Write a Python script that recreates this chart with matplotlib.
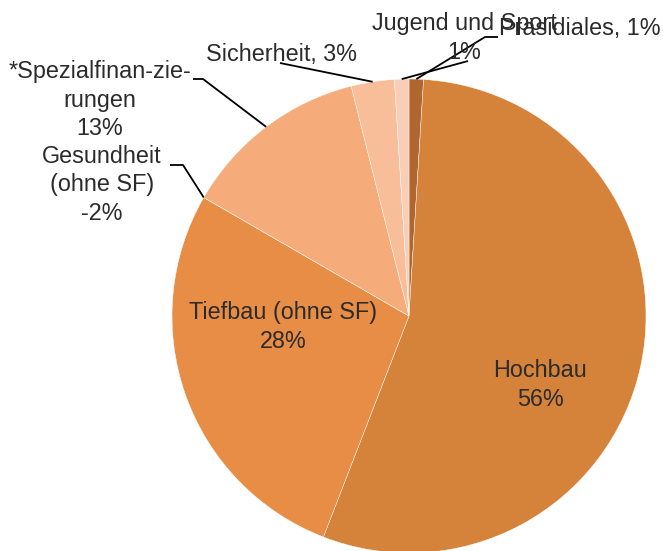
import matplotlib.pyplot as plt
import numpy as np

plt.rcParams['font.family'] = ['Liberation Sans', 'DejaVu Sans']

# Anteile je Bereich (Gesundheit negativ -> keine Fläche im Kuchen)
bereiche = ['Präsidiales', 'Hochbau', 'Tiefbau (ohne SF)', 'Gesundheit (ohne SF)',
            '*Spezialfinanzierungen', 'Sicherheit', 'Jugend und Sport']
anteile = [1, 56, 28, -2, 13, 3, 1]
farben = ['#B0662E', '#D5823B', '#E88D45', '#E88D45', '#F5AB7A', '#F8BD99', '#F9CEB8']

beschriftungen = ['Präsidiales, 1%', 'Hochbau\n56%', 'Tiefbau (ohne SF)\n28%',
                  'Gesundheit\n(ohne SF)\n-2%', '*Spezialfinan-zie-\nrungen\n13%',
                  'Sicherheit, 3%', 'Jugend und Sport\n1%']

W, H = 663, 551
CX, CY, R = 409, 316, 237


def px(x, y):
    # Pixelposition -> Datenkoordinaten (Kreismitte = 0,0, Radius = 1)
    return (x - CX) / R, (CY - y) / R


fig = plt.figure(figsize=(W / 100, H / 100), dpi=100)
ax = fig.add_axes([0, 0, 1, 1])

werte = [max(a, 0) for a in anteile]
wedges, _ = ax.pie(werte, colors=farben, startangle=90, counterclock=False, radius=1,
                   wedgeprops=dict(edgecolor='white', linewidth=0.3))

# pie() setzt eigene Grenzen, daher danach festlegen
ax.set_xlim(-CX / R, (W - CX) / R)
ax.set_ylim(-(H - CY) / R, CY / R)
ax.set_aspect('equal')
ax.axis('off')


def randpunkt(w):
    ang = np.deg2rad((w.theta1 + w.theta2) / 2)
    return np.cos(ang), np.sin(ang)


txt = dict(color='#2b2b2b', fontsize=16.8, ha='center', va='center', linespacing=1.3)

# Beschriftungen innerhalb des Kreises
ax.text(*px(540, 385), beschriftungen[1], **txt)
ax.text(*px(283, 327), beschriftungen[2], **txt)

# Beschriftungen mit Führungslinien: (Textposition, Knickpunkte der Linie)
aussen = {
    0: ((580, 29), [(498, 37), (485, 37)]),
    6: ((464, 38), [(468, 61)]),
    5: ((281, 55), [(280, 63)]),
    4: ((100, 100), [(193, 79), (203, 79)]),
    3: ((102, 185), [(170, 165), (183, 165)]),
}
for i, ((tx, ty), knick) in aussen.items():
    ax.text(*px(tx, ty), beschriftungen[i], **txt)
    xs = [px(*p)[0] for p in knick]
    ys = [px(*p)[1] for p in knick]
    ex, ey = randpunkt(wedges[i])
    ax.plot(xs + [ex], ys + [ey], color='black', lw=1.3, solid_capstyle='butt')

fig.savefig('out.png', dpi=100)
